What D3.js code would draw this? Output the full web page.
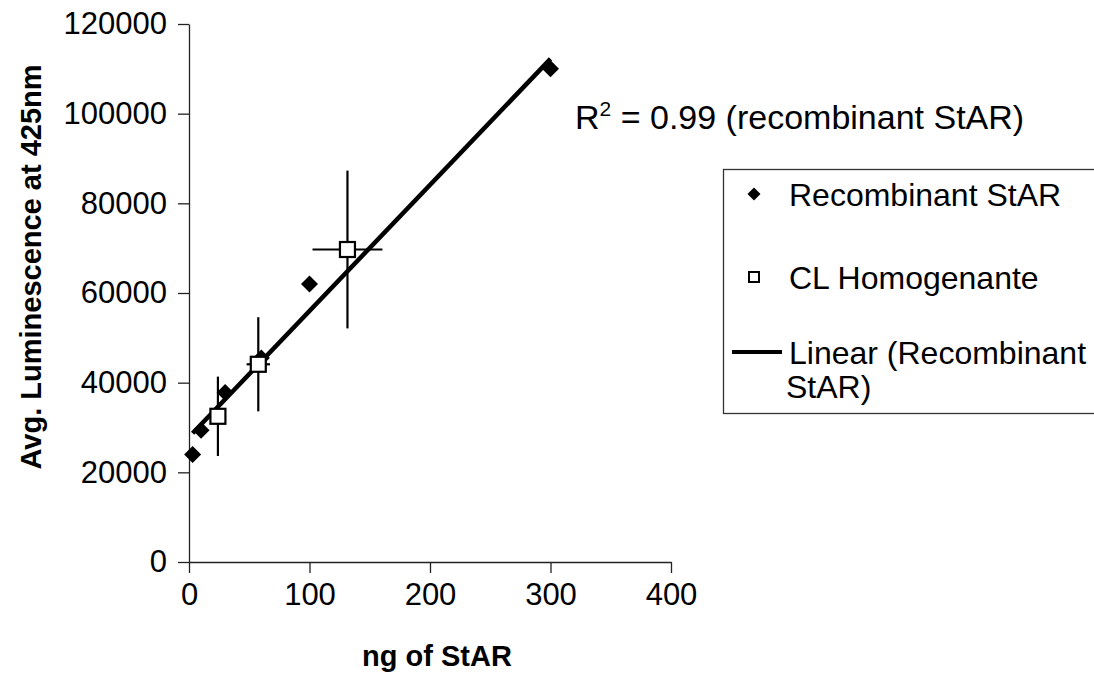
<!DOCTYPE html>
<html>
<head>
<meta charset="utf-8">
<script src="https://cdn.jsdelivr.net/npm/d3@7"></script>
<style>
  html, body { margin: 0; padding: 0; background: #fff; }
  svg { display: block; font-family: "Liberation Sans", Arial, sans-serif; }
</style>
</head>
<body>
<svg id="chart" width="1094" height="678"></svg>
<script>
// Recombinant StAR standard series (ng, luminescence)
const recombX = [3, 10, 30, 60, 100, 300];
const recombY = [24000, 29400, 37800, 45500, 62000, 110000];

// CL homogenate samples with error bars
const clX = [24, 57.5, 131.5];
const clY = [32500, 44100, 69700];
const clXErr = [3, 9.7, 29];
const clYErr = [8850, 10500, 17600];

const xTicks = [0, 100, 200, 300, 400];
const yTicks = [0, 20000, 40000, 60000, 80000, 100000, 120000];

const legendLabels = ["Recombinant StAR", "CL Homogenante", "Linear (Recombinant", "StAR)"];
const r2Label = "0.99";

const svg = d3.select("#chart");

const x = d3.scaleLinear().domain([0, 400]).range([189, 671]);
const y = d3.scaleLinear().domain([0, 120000]).range([562, 24]);

// Axes
const xAxis = d3.axisBottom(x).tickValues(xTicks).tickFormat(d3.format("d"))
  .tickSize(11).tickSizeOuter(0).tickPadding(8);
const yAxis = d3.axisLeft(y).tickValues(yTicks).tickFormat(d3.format("d"))
  .tickSize(11).tickSizeOuter(0).tickPadding(11);

const gx = svg.append("g").attr("transform", `translate(0,${y(0)})`).call(xAxis);
const gy = svg.append("g").attr("transform", `translate(${x(0)},0)`).call(yAxis);

[gx, gy].forEach(g => {
  g.select(".domain").attr("stroke", "#222").attr("stroke-width", 1.3);
  g.selectAll(".tick line").attr("stroke", "#222").attr("stroke-width", 1.3);
  g.selectAll(".tick text")
    .attr("fill", "#000")
    .style("font-family", '"Liberation Sans", Arial, sans-serif')
    .style("font-size", "31px");
});
gx.selectAll(".tick text").attr("dy", "0.78em");

// Axis titles
svg.append("text")
  .attr("x", 437).attr("y", 666)
  .attr("text-anchor", "middle")
  .style("font-size", "29px").style("font-weight", "bold")
  .text("ng of StAR");

svg.append("text")
  .attr("transform", "translate(41,267) rotate(-90)")
  .attr("text-anchor", "middle")
  .style("font-size", "29px").style("font-weight", "bold")
  .text("Avg. Luminescence at 425nm");

// Linear least-squares trendline over the recombinant series
const n = recombX.length;
const mx = d3.mean(recombX), my = d3.mean(recombY);
let sxy = 0, sxx = 0;
for (let i = 0; i < n; i++) {
  sxy += (recombX[i] - mx) * (recombY[i] - my);
  sxx += (recombX[i] - mx) ** 2;
}
const slope = sxy / sxx;
const intercept = my - slope * mx;
const [xMin, xMax] = d3.extent(recombX);

svg.append("line")
  .attr("x1", x(xMin)).attr("y1", y(intercept + slope * xMin))
  .attr("x2", x(xMax)).attr("y2", y(intercept + slope * xMax))
  .attr("stroke", "#000").attr("stroke-width", 4.5);

// Error bars for the CL homogenate
const clData = clX.map((v, i) => ({ x: v, y: clY[i], ex: clXErr[i], ey: clYErr[i] }));
const eb = svg.append("g").attr("stroke", "#000").attr("stroke-width", 2.2);
eb.selectAll(".ev").data(clData).join("line")
  .attr("x1", d => x(d.x)).attr("x2", d => x(d.x))
  .attr("y1", d => y(d.y - d.ey)).attr("y2", d => y(d.y + d.ey));
eb.selectAll(".eh").data(clData).join("line")
  .attr("y1", d => y(d.y)).attr("y2", d => y(d.y))
  .attr("x1", d => x(d.x - d.ex)).attr("x2", d => x(d.x + d.ex));

// Diamond markers
const diamond = r => `M0,${-r}L${r},0L0,${r}L${-r},0Z`;
svg.append("g").selectAll("path")
  .data(recombX.map((v, i) => ({ x: v, y: recombY[i] })))
  .join("path")
  .attr("d", diamond(8.5))
  .attr("transform", d => `translate(${x(d.x)},${y(d.y)})`)
  .attr("fill", "#000");

// Square markers
svg.append("g").selectAll("rect").data(clData).join("rect")
  .attr("x", d => x(d.x) - 7.5).attr("y", d => y(d.y) - 7.5)
  .attr("width", 15).attr("height", 15)
  .attr("fill", "#fff").attr("stroke", "#000").attr("stroke-width", 2.2);

// R-squared annotation
const r2 = svg.append("text")
  .attr("x", 575).attr("y", 129)
  .style("font-size", "34px");
r2.append("tspan").text("R");
r2.append("tspan").attr("dy", -13).style("font-size", "21px").text("2");
r2.append("tspan").attr("dy", 13).text(` = ${r2Label} (recombinant StAR)`);

// Legend
const lg = svg.append("g");
lg.append("rect")
  .attr("x", 723.5).attr("y", 169.5).attr("width", 400).attr("height", 244)
  .attr("fill", "#fff").attr("stroke", "#333").attr("stroke-width", 1.3);

const rowY = [194, 277, 352, 386];
lg.append("path").attr("d", diamond(6.5))
  .attr("transform", `translate(754,${rowY[0]})`).attr("fill", "#000");
lg.append("rect").attr("x", 749).attr("y", rowY[1] - 5).attr("width", 10).attr("height", 10)
  .attr("fill", "#fff").attr("stroke", "#000").attr("stroke-width", 2);
lg.append("line").attr("x1", 732).attr("x2", 782).attr("y1", rowY[2]).attr("y2", rowY[2])
  .attr("stroke", "#000").attr("stroke-width", 4);

lg.selectAll(".lt").data(legendLabels).join("text")
  .attr("x", (d, i) => i === 3 ? 786 : 789)
  .attr("y", (d, i) => rowY[i])
  .attr("dy", "0.36em")
  .style("font-size", "32px")
  .text(d => d);
</script>
</body>
</html>
